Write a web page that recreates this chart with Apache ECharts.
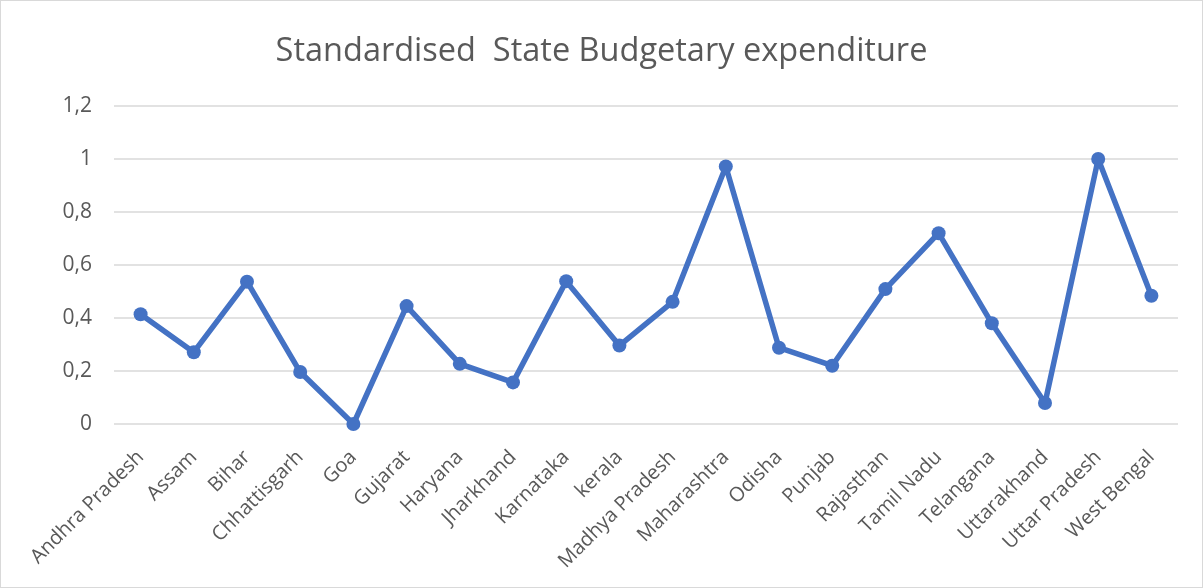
<!DOCTYPE html>
<html>
<head>
<meta charset="utf-8">
<script src="https://cdn.jsdelivr.net/npm/echarts@6/dist/echarts.min.js"></script>
<style>
  html, body { margin: 0; padding: 0; background: #fff; }
  #chart { width: 1203px; height: 588px; box-sizing: border-box; border: 1px solid #d9d9d9; }
</style>
</head>
<body>
<div id="chart"></div>
<script>
const states = [
  'Andhra Pradesh', 'Assam', 'Bihar', 'Chhattisgarh', 'Goa', 'Gujarat', 'Haryana',
  'Jharkhand', 'Karnataka', 'kerala', 'Madhya Pradesh', 'Maharashtra', 'Odisha',
  'Punjab', 'Rajasthan', 'Tamil Nadu', 'Telangana', 'Uttarakhand', 'Uttar Pradesh', 'West Bengal'
];
const expenditure = [
  0.414, 0.271, 0.537, 0.196, 0.0, 0.445, 0.227,
  0.157, 0.539, 0.296, 0.461, 0.972, 0.288,
  0.220, 0.509, 0.720, 0.380, 0.079, 1.0, 0.484
];
const yTicks = { min: 0, max: 1.2, step: 0.2 };

const chart = echarts.init(document.getElementById('chart'), null, { renderer: 'canvas' });
const font = '"Open Sans", sans-serif';
chart.setOption({
  animation: false,
  title: {
    text: 'Standardised  State Budgetary expenditure',
    left: 'center',
    top: 29,
    textStyle: { fontFamily: font, fontSize: 32.5, fontWeight: 'normal', color: '#595959' }
  },
  grid: { left: 113, right: 24, top: 105, bottom: 163, containLabel: false },
  xAxis: {
    type: 'category',
    data: states,
    boundaryGap: true,
    axisLine: { show: false },
    axisTick: { show: false },
    axisLabel: {
      interval: 0, rotate: 45, margin: 30,
      fontFamily: font, fontSize: 20, color: '#595959'
    }
  },
  yAxis: {
    type: 'value',
    min: yTicks.min, max: yTicks.max, interval: yTicks.step,
    axisLine: { show: false },
    axisTick: { show: false },
    splitLine: { lineStyle: { color: '#d9d9d9', width: 1.5 } },
    axisLabel: {
      margin: 22,
      fontFamily: font, fontSize: 21, color: '#595959',
      formatter: v => String(Math.round(v * 10) / 10).replace('.', ',')
    }
  },
  series: [{
    type: 'line',
    data: expenditure,
    symbol: 'circle',
    symbolSize: 14,
    lineStyle: { color: '#4472C4', width: 5.5 },
    itemStyle: { color: '#4472C4' }
  }]
});
</script>
</body>
</html>
